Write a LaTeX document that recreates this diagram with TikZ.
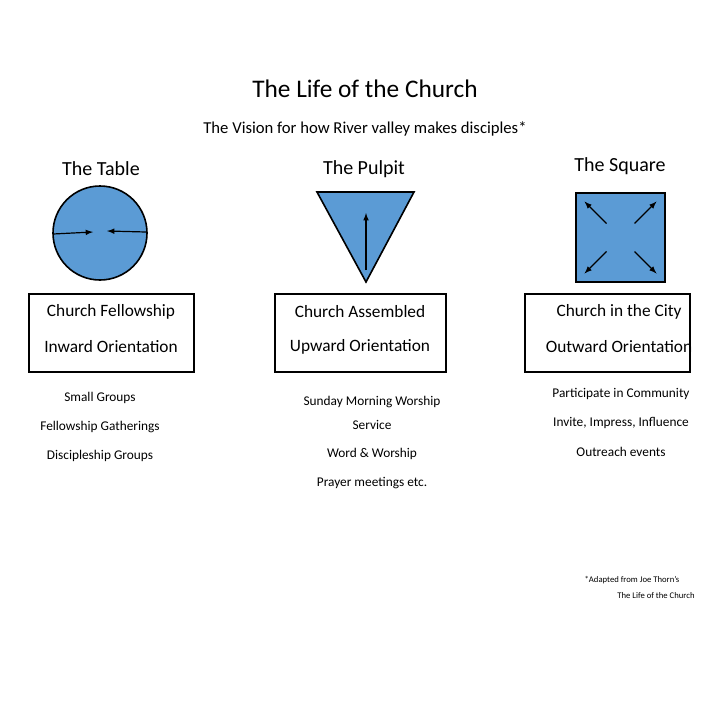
\documentclass[tikz,border=0pt]{standalone}
\usepackage{fontspec}
\setmainfont{Carlito}
\definecolor{fillblue}{HTML}{5B9BD5}
\begin{document}
\begin{tikzpicture}[x=0.75pt,y=-0.75pt,
  shp/.style={draw=black,line width=1.2pt,fill=fillblue},
  arr/.style={-latex,line width=0.9pt},
  box/.style={draw=black,line width=1.5pt},
  t/.style={inner sep=0pt,anchor=center},
  hd/.style={t,font=\fontsize{15}{18}\selectfont},
  bt/.style={t,font=\fontsize{13}{16}\selectfont},
  li/.style={t,font=\fontsize{10}{12}\selectfont},
  fn/.style={t,font=\fontsize{6.5}{8}\selectfont}]
\useasboundingbox (0,0) rectangle (718,718);
\node[t,font=\fontsize{19}{23}\selectfont] (title) at (365,89) {The Life of the Church};
\node[t,font=\fontsize{12.5}{15}\selectfont] (sub) at (365,129) {The Vision for how River valley makes disciples*};
\node[hd] (h1) at (101,169) {The Table};
\node[hd] (h2) at (364,169) {The Pulpit};
\node[hd] (h3) at (620,166) {The Square};
% circle
\draw[shp] (100,233) circle (47);
\coordinate (c1a) at (53,234); \coordinate (c1b) at (93,232);
\coordinate (c2a) at (146,232); \coordinate (c2b) at (107,231);
\draw[arr] (c1a) -- (c1b);
\draw[arr] (c2a) -- (c2b);
% triangle
\draw[shp] (317,192) -- (414,192) -- (366,282) -- cycle;
\coordinate (pa) at (366,270); \coordinate (pb) at (366,213);
\draw[arr] (pa) -- (pb);
% square
\draw[shp] (576,193) rectangle (665,282);
\foreach \dx/\dy [count=\i] in {-1/-1,1/-1,-1/1,1/1}{
  \coordinate (s\i a) at (620.5+14*\dx,237.5+14*\dy);
  \coordinate (s\i b) at (620.5+36*\dx,237.5+36*\dy);
  \draw[arr] (s\i a) -- (s\i b);
}
% boxes
\draw[box] (29,294) rectangle (194,372);
\draw[box] (275,294) rectangle (446,372);
\draw[box] (525,294) rectangle (690,372);
\node[bt] at (111,312) {Church Fellowship};
\node[bt] at (111,347) {Inward Orientation};
\node[bt] at (360,312) {Church Assembled};
\node[bt] at (360,347) {Upward Orientation};
\node[bt] at (619,312) {Church in the City};
\node[bt] at (619,347) {Outward Orientation};
% lists
\node[li] at (100,398) {Small Groups};
\node[li] at (100,427) {Fellowship Gatherings};
\node[li] at (100,456) {Discipleship Groups};
\node[li] at (372,402) {Sunday Morning Worship};
\node[li] at (372,425) {Service};
\node[li] at (372,454) {Word \& Worship};
\node[li] at (372,483) {Prayer meetings etc.};
\node[li] at (621,394) {Participate in Community};
\node[li] at (621,423) {Invite, Impress, Influence};
\node[li] at (621,452) {Outreach events};
\node[fn] at (632,580) {*Adapted from Joe Thorn’s};
\node[fn] at (656,596) {The Life of the Church};
\end{tikzpicture}
\end{document}
